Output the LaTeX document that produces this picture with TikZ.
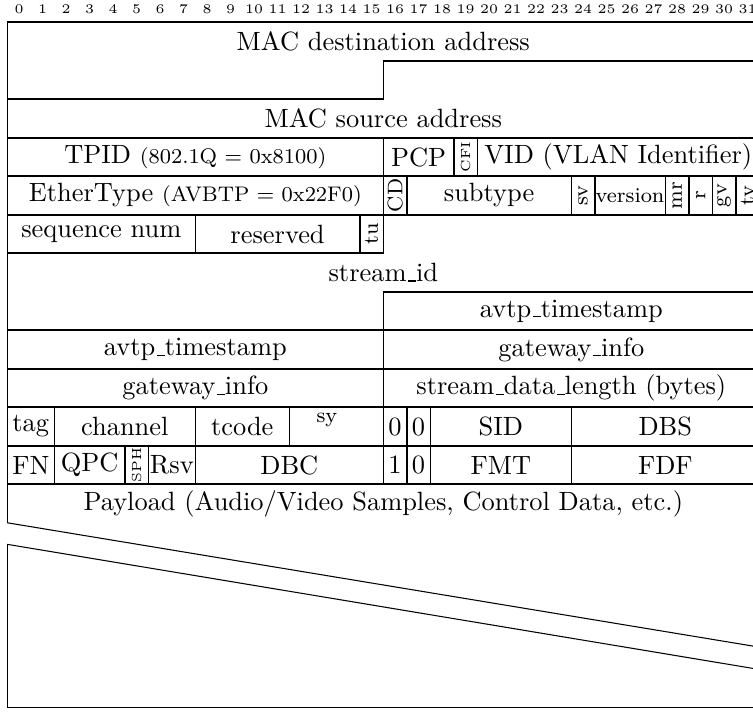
\documentclass[tikz,border=0pt]{standalone}
\usepackage{tikz}
\newcommand{\usc}{\leavevmode\kern.06em\vbox{\hrule width.3em}}

\begin{document}
\begin{tikzpicture}[x=8.9pt, y=14.58pt, line width=0.6pt,
    bitnum/.style={font=\tiny, inner sep=0pt},
    lbl/.style={inner sep=0pt},
    rotlbl/.style={inner sep=0pt, rotate=90, font=\footnotesize},
    rottiny/.style={inner sep=0pt, rotate=90, font=\tiny},
    skipline/.style={line width=0.4pt}]
  \useasboundingbox (-0.311, 0.579) rectangle (31.73, -17.89);
  % bit numbers
  \foreach \i in {0,...,31} \node[bitnum] (bit\i) at (\i+0.5, 0.345) {\i};
  % MAC addresses (48 bit each)
  \draw (0,0) -- (32,0) -- (32,-1) -- (16,-1) -- (16,-2) -- (0,-2) -- cycle;
  \node[lbl] (macdst) at (16,-0.5) {MAC destination address};
  \draw (16,-1) -- (32,-1) -- (32,-3) -- (0,-3) -- (0,-2) -- (16,-2) -- cycle;
  \node[lbl] (macsrc) at (16,-2.5) {MAC source address};
  % stream_id (64 bit)
  \draw (16,-5) -- (32,-5) -- (32,-7) -- (16,-7) -- (16,-8) -- (0,-8) -- (0,-6) -- (16,-6) -- cycle;
  \node[lbl] (streamid) at (16,-6.5) {stream\usc id};
  % one-row fields
  \foreach \row/\xa/\xb/\nm/\txt in {
      3/0/16/tpid/{TPID {\footnotesize (802.1Q = 0x8100)}}, 3/16/19/pcp/PCP,
      3/20/32/vid/VID (VLAN Identifier),
      4/0/16/ethtype/{EtherType {\footnotesize (AVBTP = 0x22F0)}}, 4/17/24/subtype/subtype,
      4/25/28/version/{\footnotesize version},
      5/0/8/seqnum/sequence num, 5/8/15/reserved/reserved,
      7/16/32/tsa/avtp\usc timestamp, 8/0/16/tsb/avtp\usc timestamp,
      8/16/32/gwa/gateway\usc info, 9/0/16/gwb/gateway\usc info,
      9/16/32/sdlen/stream\usc data\usc length (bytes),
      10/0/2/tag/tag, 10/2/8/channel/channel, 10/8/12/tcode/tcode, 10/12/16/sy/{},
      10/16/17/qa/0, 10/17/18/qb/0, 10/18/24/sid/SID, 10/24/32/dbs/DBS,
      11/0/2/fn/FN, 11/2/5/qpc/QPC, 11/6/8/rsv/Rsv, 11/8/16/dbc/DBC,
      11/16/17/qc/1, 11/17/18/qd/0, 11/18/24/fmt/FMT, 11/24/32/fdf/FDF}
    {\draw (\xa,-\row) rectangle (\xb,-\row-1);
     \node[lbl] (\nm) at ({(\xa+\xb)/2},-\row-0.5) {\txt};}
  \node[lbl, font=\footnotesize, anchor=base] (sytxt) at (13.6,-10.4) {sy};
  % single bit flags
  \foreach \row/\xa/\nm/\txt in {4/16/cd/CD, 4/24/sv/sv, 4/28/mr/mr, 4/29/r/r,
      4/30/gv/gv, 4/31/tv/tv, 5/15/tu/tu}
    {\draw (\xa,-\row) rectangle (\xa+1,-\row-1);
     \node[rotlbl] (\nm) at (\xa+0.5,-\row-0.5) {\txt};}
  \foreach \row/\xa/\nm/\txt in {3/19/cfi/CFI, 11/5/sph/SPH}
    {\draw (\xa,-\row) rectangle (\xa+1,-\row-1);
     \node[rottiny] (\nm) at (\xa+0.5,-\row-0.5) {\txt};}
  % payload with skipped words
  \draw (0,-13) -- (0,-12) -- (32,-12) -- (32,-16.23);
  \node[lbl] (payload) at (16,-12.5) {Payload (Audio/Video Samples, Control Data, etc.)};
  \draw[skipline] (0,-13) -- (32,-16.23);
  \draw[skipline] (0,-13.56) -- (32,-16.81);
  \draw (32,-16.81) -- (32,-17.8) -- (0,-17.8) -- (0,-13.56);
\end{tikzpicture}
\end{document}
